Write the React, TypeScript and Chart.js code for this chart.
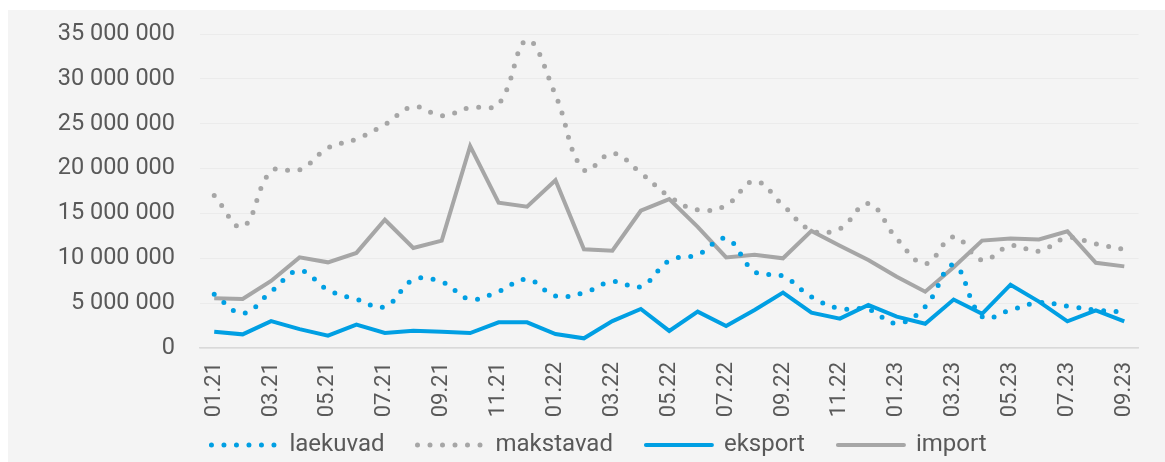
import { useEffect, useRef } from "react";
import { Chart, registerables } from "chart.js";

Chart.register(...registerables);

const months = [
  "01.21", "02.21", "03.21", "04.21", "05.21", "06.21", "07.21", "08.21", "09.21", "10.21", "11.21", "12.21",
  "01.22", "02.22", "03.22", "04.22", "05.22", "06.22", "07.22", "08.22", "09.22", "10.22", "11.22", "12.22",
  "01.23", "02.23", "03.23", "04.23", "05.23", "06.23", "07.23", "08.23", "09.23",
];

const laekuvad = [
  5980000, 3870000, 6280000, 8620000, 6470000, 5430000, 4600000, 7600000, 7360000, 5430000, 6300000, 7660000,
  5800000, 6170000, 7400000, 6840000, 9740000, 10400000, 12200000, 8500000, 8000000, 5700000, 4400000, 4300000,
  2750000, 4600000, 9250000, 3500000, 4240000, 5050000, 4680000, 4240000, 4000000,
];

const makstavad = [
  17000000, 13500000, 19700000, 19850000, 22300000, 23300000, 24900000, 26900000, 25900000, 26800000, 27200000, 34300000,
  28200000, 19850000, 21700000, 19500000, 16900000, 15400000, 15900000, 18600000, 15900000, 13100000, 13300000, 16100000,
  12200000, 9400000, 12400000, 9800000, 11400000, 10800000, 12300000, 11600000, 11000000,
];

const eksport = [
  1820000, 1520000, 3000000, 2100000, 1370000, 2600000, 1670000, 1930000, 1820000, 1670000, 2860000, 2860000,
  1560000, 1080000, 3000000, 4350000, 1900000, 4050000, 2450000, 4240000, 6170000, 3930000, 3270000, 4800000,
  3500000, 2700000, 5400000, 3800000, 7060000, 5170000, 2970000, 4200000, 2970000,
];

const importVals = [
  5540000, 5460000, 7470000, 10100000, 9550000, 10600000, 14300000, 11150000, 11970000, 22500000, 16200000, 15750000,
  18700000, 11000000, 10850000, 15300000, 16600000, 13500000, 10100000, 10400000, 10000000, 13050000, 11400000, 9800000,
  7950000, 6280000, 9000000, 11970000, 12200000, 12100000, 13000000, 9500000, 9100000,
];

const yTicks = [0, 5000000, 10000000, 15000000, 20000000, 25000000, 30000000, 35000000];

const BLUE = "#009fe3";
const GRAY = "#a6a6a6";
const TEXT = "#595959";
const FONT = "Roboto, 'Noto Sans', sans-serif";
const DOTS = [0, 12.5];

const fmt = (v: number) => String(v).replace(/\B(?=(\d{3})+(?!\d))/g, " ");

export default function App() {
  const ref = useRef<HTMLCanvasElement>(null);

  useEffect(() => {
    const chart = new Chart(ref.current!, {
      type: "line",
      data: {
        labels: months,
        datasets: [
          {
            label: "laekuvad",
            data: laekuvad,
            borderColor: BLUE,
            backgroundColor: BLUE,
            borderWidth: 5,
            borderDash: DOTS,
            borderCapStyle: "round",
            tension: 0.4,
            pointRadius: 0,
          },
          {
            label: "makstavad",
            data: makstavad,
            borderColor: GRAY,
            backgroundColor: GRAY,
            borderWidth: 5,
            borderDash: DOTS,
            borderCapStyle: "round",
            tension: 0.4,
            pointRadius: 0,
          },
          {
            label: "eksport",
            data: eksport,
            borderColor: BLUE,
            backgroundColor: BLUE,
            borderWidth: 4,
            tension: 0,
            pointRadius: 0,
          },
          {
            label: "import",
            data: importVals,
            borderColor: GRAY,
            backgroundColor: GRAY,
            borderWidth: 4,
            tension: 0,
            pointRadius: 0,
          },
        ],
      },
      options: {
        responsive: false,
        animation: false,
        layout: { padding: { top: 24, right: 21, left: 46, bottom: -5 } },
        plugins: {
          tooltip: { enabled: false },
          legend: {
            position: "bottom",
            labels: {
              usePointStyle: true,
              pointStyle: "line",
              pointStyleWidth: 66,
              padding: 33,
              color: TEXT,
              font: { family: FONT, size: 24, lineHeight: 1 },
              generateLabels: (c: any) => {
                const items = Chart.defaults.plugins.legend.labels.generateLabels(c);
                items.forEach((it: any, i: number) => {
                  const ds: any = c.data.datasets[i];
                  it.lineDash = ds.borderDash || [];
                  it.lineCap = "round";
                  it.lineWidth = ds.borderWidth;
                  it.strokeStyle = ds.borderColor;
                  it.fillStyle = "rgba(0,0,0,0)";
                  it.pointStyle = "line";
                });
                return items;
              },
            },
          },
        },
        scales: {
          x: {
            offset: true,
            grid: { display: false, drawTicks: false },
            border: { display: true, color: "#d9d9d9", width: 1.5 },
            ticks: {
              autoSkip: false,
              maxRotation: 90,
              minRotation: 90,
              padding: 14,
              color: TEXT,
              font: { family: FONT, size: 22 },
              callback: (_v: any, i: number) => (i % 2 === 0 ? months[i] : ""),
            },
            afterFit: (s: any) => {
              s.height = 52;
              s._computeLabelArea = () => null;
            },
          },
          y: {
            min: 0,
            max: 35000000,
            afterBuildTicks: (s: any) => {
              s.ticks = yTicks.map((v) => ({ value: v }));
            },
            grid: { color: "#ebebeb", lineWidth: 1, drawTicks: false },
            border: { display: false },
            ticks: {
              padding: 25,
              color: TEXT,
              font: { family: FONT, size: 23.5 },
              callback: (v: any) => fmt(Number(v)),
            },
            afterFit: (s: any) => {
              s.width = 146;
              s.paddingTop = 0;
              s.paddingBottom = 0;
            },
          },
        },
      },
    });
    return () => chart.destroy();
  }, []);

  return (
    <div
      style={{
        position: "absolute",
        left: 8,
        top: 10,
        width: 1157,
        height: 452,
        background: "#f4f4f4",
      }}
    >
      <canvas ref={ref} width={1157} height={452} style={{ display: "block" }} />
    </div>
  );
}
